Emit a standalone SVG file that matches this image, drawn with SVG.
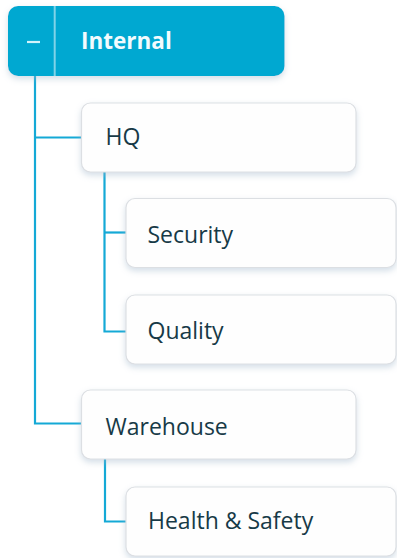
<svg xmlns="http://www.w3.org/2000/svg" width="397" height="558" viewBox="0 0 397 558">
<defs>
<filter id="sh" x="-10%" y="-20%" width="120%" height="150%">
<feDropShadow dx="0" dy="3" stdDeviation="3" flood-color="#9fb6cc" flood-opacity="0.45"/>
</filter>
<style>
.box{fill:#fefefe;stroke:#dcdfe3;stroke-width:1.2;filter:url(#sh)}
.lbl{font-family:"Open Sans","Noto Sans",sans-serif;font-size:23px;fill:#173a47}
.con{fill:none;stroke:#14a9d6;stroke-width:2.2}
</style>
</defs>
<rect width="397" height="558" fill="#ffffff"/>
<g id="connectors">
<path class="con" d="M35 76 V423.5 H82"/>
<path class="con" d="M35 137.5 H82"/>
<path class="con" d="M104.5 172 V331.5 H126"/>
<path class="con" d="M104.5 232.5 H126"/>
<path class="con" d="M105 459 V521.5 H126"/>
</g>
<g id="internal">
<rect x="8" y="6" width="276.5" height="70" rx="10" fill="#00a8d1" filter="url(#sh)"/>
<line x1="54.7" y1="6" x2="54.7" y2="76" stroke="#80d3e8" stroke-width="2"/>
<line x1="27" y1="42" x2="40" y2="42" stroke="#d2f3fb" stroke-width="2.2"/>
<text x="81" y="49" font-family="'Open Sans','Noto Sans',sans-serif" font-size="22.5" font-weight="700" fill="#f2fbfe">Internal</text>
</g>
<g id="hq">
<rect class="box" x="81.5" y="103" width="274.5" height="69" rx="9"/>
<text class="lbl" x="105.5" y="145">HQ</text>
</g>
<g id="security">
<rect class="box" x="126" y="198.5" width="270" height="69" rx="9"/>
<text class="lbl" x="147.5" y="242.5">Security</text>
</g>
<g id="quality">
<rect class="box" x="126" y="295" width="270" height="69" rx="9"/>
<text class="lbl" x="147.5" y="339">Quality</text>
</g>
<g id="warehouse">
<rect class="box" x="81.5" y="390" width="274.5" height="69" rx="9"/>
<text class="lbl" x="105.5" y="434.5">Warehouse</text>
</g>
<g id="health-safety">
<rect class="box" x="126" y="487" width="270" height="69" rx="9"/>
<text class="lbl" x="148" y="529">Health &amp; Safety</text>
</g>
</svg>
